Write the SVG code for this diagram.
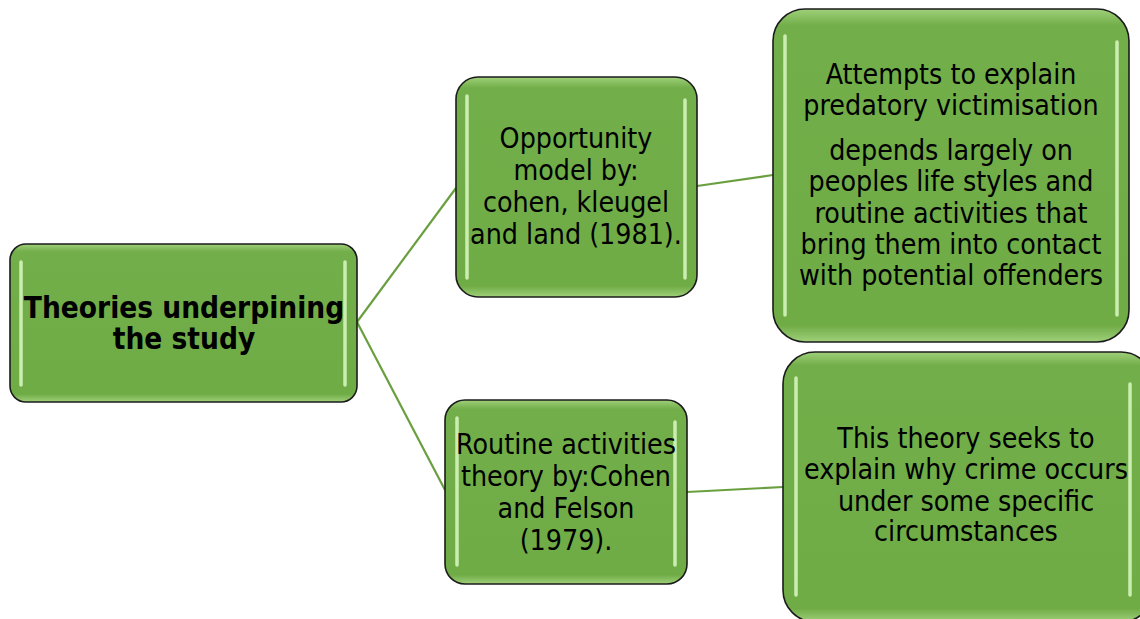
<svg xmlns="http://www.w3.org/2000/svg" width="1140" height="619" viewBox="0 0 1140 619">
<defs>
<linearGradient id="fillG" x1="0" y1="0" x2="0" y2="1">
<stop offset="0" stop-color="#9fd07a"/>
<stop offset="0.05" stop-color="#72ae49"/>
<stop offset="0.95" stop-color="#70ac46"/>
<stop offset="1" stop-color="#9fd07a"/>
</linearGradient>
</defs>
<style>
.box{fill:url(#fillG);stroke:#1b1b1b;stroke-width:1.6}
.hi{stroke:#d6f4bd;stroke-width:3.5;stroke-linecap:round;fill:none;opacity:0.9}
.t{font-family:"DejaVu Sans Condensed","DejaVu Sans",sans-serif;font-stretch:condensed;font-size:28.3px;fill:#000;text-anchor:middle}
.b{font-weight:bold;font-size:29.5px}
.c{stroke:#6a9f40;stroke-width:2.2;fill:none}
</style>
<rect width="1140" height="619" fill="#ffffff"/>
<g id="connectors">
<line class="c" x1="357" y1="322" x2="456" y2="188"/>
<line class="c" x1="357" y1="322" x2="445" y2="490"/>
<line class="c" x1="697" y1="186" x2="773" y2="175"/>
<line class="c" x1="687" y1="492" x2="783" y2="487"/>
</g>
<g id="root">
<rect class="box" x="10" y="244" width="347" height="158" rx="16"/>
<line class="hi" x1="21" y1="262" x2="21" y2="385"/>
<line class="hi" x1="345" y1="262" x2="345" y2="385"/>
<text class="t b" x="184" y="318">Theories underpining</text>
<text class="t b" x="184" y="349">the study</text>
</g>
<g id="opportunity">
<rect class="box" x="456" y="77" width="241" height="220" rx="22"/>
<line class="hi" x1="467" y1="96" x2="467" y2="278"/>
<line class="hi" x1="685" y1="100" x2="685" y2="278"/>
<text class="t" x="576" y="148">Opportunity</text>
<text class="t" x="576" y="180">model by:</text>
<text class="t" x="576" y="212">cohen, kleugel</text>
<text class="t" x="576" y="244">and land (1981).</text>
</g>
<g id="attempts">
<rect class="box" x="773" y="9" width="356" height="333" rx="32"/>
<line class="hi" x1="785" y1="36" x2="785" y2="315"/>
<line class="hi" x1="1117" y1="42" x2="1117" y2="315"/>
<text class="t" x="951" y="84">Attempts to explain</text>
<text class="t" x="951" y="115">predatory victimisation</text>
<text class="t" x="951" y="160">depends largely on</text>
<text class="t" x="951" y="191">peoples life styles and</text>
<text class="t" x="951" y="223">routine activities that</text>
<text class="t" x="951" y="254">bring them into contact</text>
<text class="t" x="951" y="285">with potential offenders</text>
</g>
<g id="routine">
<rect class="box" x="445" y="400" width="242" height="184" rx="20"/>
<line class="hi" x1="457" y1="418" x2="457" y2="565"/>
<line class="hi" x1="675" y1="422" x2="675" y2="565"/>
<text class="t" x="566" y="454">Routine activities</text>
<text class="t" x="566" y="486">theory by:Cohen</text>
<text class="t" x="566" y="518">and Felson</text>
<text class="t" x="566" y="550">(1979).</text>
</g>
<g id="theory">
<rect class="box" x="783" y="352" width="370" height="270" rx="32"/>
<line class="hi" x1="796" y1="378" x2="796" y2="595"/>
<line class="hi" x1="1130" y1="384" x2="1130" y2="595"/>
<text class="t" x="966" y="448">This theory seeks to</text>
<text class="t" x="966" y="479">explain why crime occurs</text>
<text class="t" x="966" y="511">under some specific</text>
<text class="t" x="966" y="541">circumstances</text>
</g>
</svg>
